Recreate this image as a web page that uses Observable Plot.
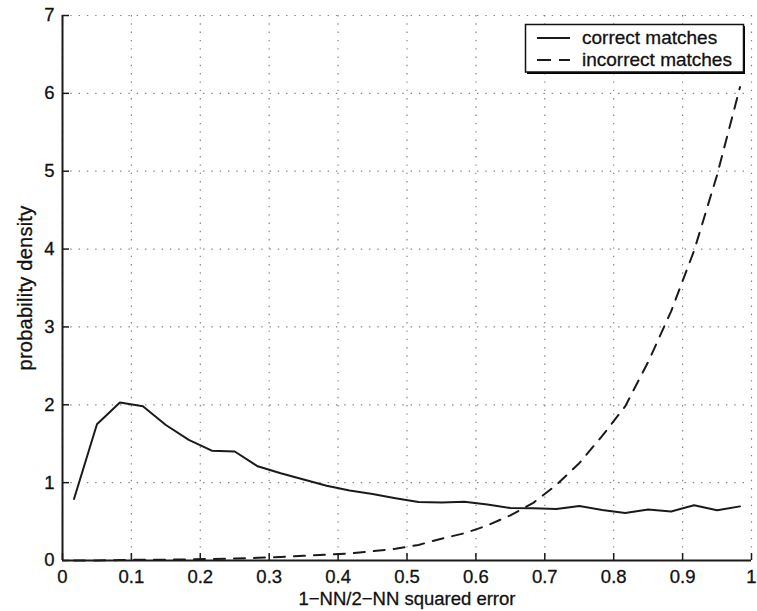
<!DOCTYPE html>
<html>
<head>
<meta charset="utf-8">
<script src="https://cdn.jsdelivr.net/npm/d3@7"></script>
<script src="https://cdn.jsdelivr.net/npm/@observablehq/plot@0.6"></script>
<style>
  html, body { margin: 0; padding: 0; background: #fff; }
  #chart { width: 757px; height: 611px; }
  #chart text { stroke: #111; stroke-width: 0.3px; }
</style>
</head>
<body>
<div id="chart"></div>
<script>
// ---- data ----
const xTicks = [0, 0.1, 0.2, 0.3, 0.4, 0.5, 0.6, 0.7, 0.8, 0.9, 1];
const yTicks = [0, 1, 2, 3, 4, 5, 6, 7];
const xTickLabels = ["0", "0.1", "0.2", "0.3", "0.4", "0.5", "0.6", "0.7", "0.8", "0.9", "1"];
const yTickLabels = ["0", "1", "2", "3", "4", "5", "6", "7"];

const binCenters = [0.0167, 0.05, 0.0833, 0.1167, 0.15, 0.1833, 0.2167, 0.25, 0.2833, 0.3167,
                    0.35, 0.3833, 0.4167, 0.45, 0.4833, 0.5167, 0.55, 0.5833, 0.6167, 0.65,
                    0.6833, 0.7167, 0.75, 0.7833, 0.8167, 0.85, 0.8833, 0.9167, 0.95, 0.9833];

const correctMatches = [0.79, 1.75, 2.03, 1.98, 1.74, 1.55, 1.41, 1.40, 1.21, 1.12,
                        1.04, 0.96, 0.90, 0.855, 0.80, 0.75, 0.745, 0.755, 0.72, 0.675,
                        0.67, 0.66, 0.70, 0.65, 0.61, 0.655, 0.63, 0.71, 0.645, 0.695];

const incorrectMatches = [0.0, 0.0, 0.005, 0.01, 0.01, 0.015, 0.02, 0.025, 0.035, 0.045,
                          0.06, 0.075, 0.09, 0.12, 0.15, 0.20, 0.28, 0.35, 0.45, 0.58,
                          0.74, 0.97, 1.25, 1.60, 1.98, 2.55, 3.20, 3.98, 4.95, 6.08];

const seriesNames = ["correct matches", "incorrect matches"];
const xLabel = "1\u2212NN/2\u2212NN squared error";
const yLabel = "probability density";

// ---- layout ----
const W = 757, H = 611;
const mL = 62, mR = 6, mT = 15, mB = 51;
const frameW = W - mL - mR, frameH = H - mT - mB;
const tickLen = 7;
const FONT = "'Liberation Sans', Arial, Helvetica, sans-serif";
const FS = 19;
const TFS = 18.5;
const INK = "#111";

const correctData = binCenters.map((x, i) => ({x, y: correctMatches[i]}));
const incorrectData = binCenters.map((x, i) => ({x, y: incorrectMatches[i]}));

const chart = Plot.plot({
  width: W,
  height: H,
  marginLeft: mL,
  marginRight: mR,
  marginTop: mT,
  marginBottom: mB,
  style: {fontFamily: FONT, fontSize: FS + "px", color: INK, background: "#fff", overflow: "visible"},
  x: {domain: [0, 1], axis: null},
  y: {domain: [0, 7], axis: null},
  marks: [
    // dotted grid
    Plot.gridX(xTicks, {stroke: "#6e6e6e", strokeOpacity: 0.85, strokeWidth: 1.2, strokeDasharray: "1.4,6.9"}),
    Plot.gridY(yTicks, {stroke: "#6e6e6e", strokeOpacity: 0.85, strokeWidth: 1.2, strokeDasharray: "1.4,6.9"}),
    // curves
    Plot.line(correctData, {x: "x", y: "y", stroke: "#1a1a1a", strokeWidth: 2}),
    Plot.line(incorrectData, {x: "x", y: "y", stroke: "#1a1a1a", strokeWidth: 2, strokeDasharray: "11,9"}),
    // axis lines
    Plot.ruleX([0], {stroke: "#1a1a1a", strokeWidth: 2}),
    Plot.ruleY([0], {stroke: "#1a1a1a", strokeWidth: 2}),
    // inward ticks
    Plot.tickX(xTicks, {x: d => d, stroke: "#1a1a1a", strokeWidth: 1.5, insetTop: frameH - tickLen}),
    Plot.tickY(yTicks, {y: d => d, stroke: "#1a1a1a", strokeWidth: 1.5, insetRight: frameW - tickLen}),
    // tick labels
    Plot.axisX(xTicks, {tickSize: 0, tickPadding: 9, tickFormat: (d, i) => xTickLabels[i], fontSize: TFS, label: null, fill: INK}),
    Plot.axisY(yTicks, {tickSize: 0, tickPadding: 8, tickFormat: (d, i) => yTickLabels[i], fontSize: TFS, label: null, fill: INK}),
    // axis titles
    Plot.text([xLabel], {frameAnchor: "bottom", textAnchor: "middle", text: d => d, dy: 44, fontSize: 18.5, fill: INK}),
    Plot.text([yLabel], {frameAnchor: "left", textAnchor: "middle", text: d => d, rotate: -90, dx: -37, fontSize: 20, fill: INK})
  ]
});

document.getElementById("chart").appendChild(chart);

// y title letter spacing to match reference length
d3.select(chart).selectAll("text").filter(function() { return this.textContent === yLabel; })
  .style("letter-spacing", "0.25px");

// ---- legend (inside the plot area, top right) ----
const svg = d3.select(chart);
const lg = svg.append("g").attr("font-family", FONT).attr("font-size", FS);
lg.append("rect").attr("x", 527).attr("y", 26).attr("width", 218).attr("height", 48)
  .attr("fill", "#000");
lg.append("rect").attr("x", 525.5).attr("y", 24.5).attr("width", 218).attr("height", 47.5)
  .attr("fill", "#fff").attr("stroke", "#111").attr("stroke-width", 1.5);
const rows = [{y: 38, dash: null, base: 44}, {y: 60, dash: "14,8", base: 66}];
rows.forEach((r, i) => {
  const ln = lg.append("line").attr("x1", 537).attr("x2", 570).attr("y1", r.y).attr("y2", r.y)
    .attr("stroke", "#1a1a1a").attr("stroke-width", 2);
  if (r.dash) ln.attr("stroke-dasharray", r.dash);
  lg.append("text").attr("x", 582).attr("y", r.base).attr("fill", INK)
    .attr("text-anchor", "start").text(seriesNames[i]);
});
</script>
</body>
</html>
